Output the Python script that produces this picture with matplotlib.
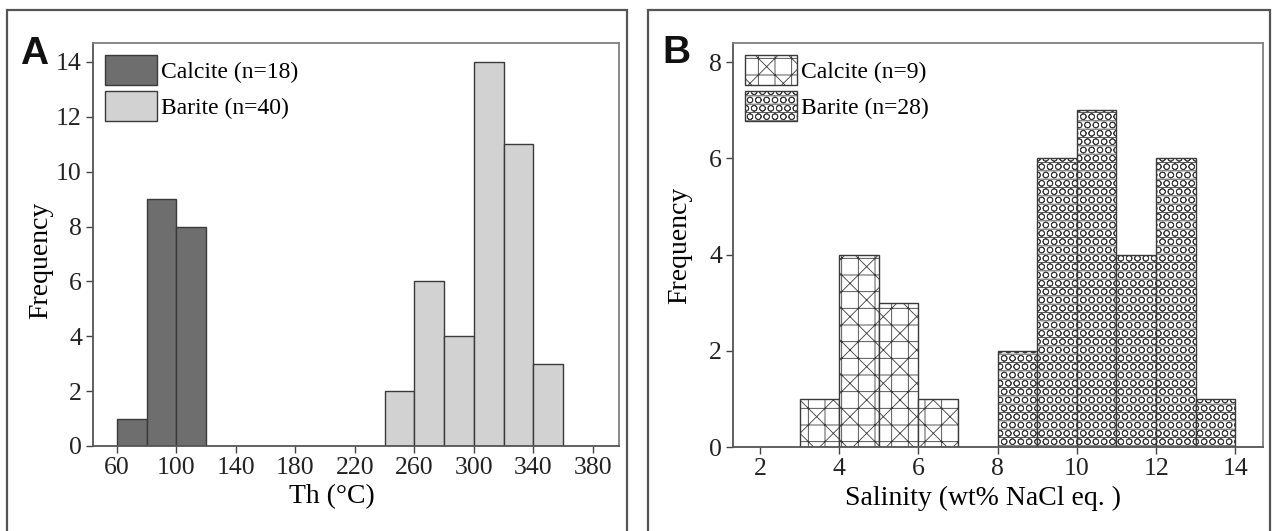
import matplotlib
matplotlib.use("Agg")
import matplotlib.pyplot as plt
import numpy as np
from matplotlib.patches import Patch, Rectangle

# ---------------- data ----------------
# Panel A: homogenization temperature (Th, °C)
th_bin_edges = [60, 80, 100, 120, 140, 160, 180, 200, 220, 240, 260, 280, 300, 320, 340, 360]
th_calcite = [1, 9, 8, 0, 0, 0, 0, 0, 0, 0, 0, 0, 0, 0, 0]
th_barite = [0, 0, 0, 0, 0, 0, 0, 0, 0, 2, 6, 4, 14, 11, 3]
th_xticks = [60, 100, 140, 180, 220, 260, 300, 340, 380]
th_yticks = [0, 2, 4, 6, 8, 10, 12, 14]
label_calcite_a = "Calcite (n=18)"
label_barite_a = "Barite (n=40)"

# Panel B: salinity (wt% NaCl eq.)
sal_bin_edges = [3, 4, 5, 6, 7, 8, 9, 10, 11, 12, 13, 14]
sal_calcite = [1, 4, 3, 1, 0, 0, 0, 0, 0, 0, 0]
sal_barite = [0, 0, 0, 0, 0, 2, 6, 7, 4, 6, 1]
sal_xticks = [2, 4, 6, 8, 10, 12, 14]
sal_yticks = [0, 2, 4, 6, 8]
label_calcite_b = "Calcite (n=9)"
label_barite_b = "Barite (n=28)"

# ---------------- style ----------------
W, H = 1273, 531
plt.rcParams['font.family'] = ['Liberation Serif', 'DejaVu Serif']
plt.rcParams['hatch.linewidth'] = 0.6
SERIF = 'Liberation Serif'
EDGE = '#3a3a3a'
SPINE = '#808080'
TICKC = '#444444'

fig = plt.figure(figsize=(W / 100, H / 100), dpi=100)


def ax_rect(l, t, r, b):
    return [l / W, 1 - b / H, (r - l) / W, (b - t) / H]


axA = fig.add_axes(ax_rect(93, 43, 619, 446))
axB = fig.add_axes(ax_rect(733, 43, 1263, 447))

# outer panel frames
for (l, r) in [(7, 627), (648, 1270)]:
    fig.add_artist(Rectangle((l / W, -0.05), (r - l) / W, 1 - 10 / H + 0.05,
                             transform=fig.transFigure, fill=False,
                             edgecolor='#555555', linewidth=1.6, clip_on=False))


def draw_hist(ax, edges, counts, **kw):
    edges = np.asarray(edges, dtype=float)
    counts = np.asarray(counts, dtype=float)
    widths = np.diff(edges)
    m = counts > 0
    ax.bar(edges[:-1][m], counts[m], width=widths[m], align='edge', **kw)


# ---------------- Panel A ----------------
calcite_a_style = dict(facecolor='#6e6e6e', edgecolor=EDGE, linewidth=1.0)
barite_a_style = dict(facecolor='#d2d2d2', edgecolor=EDGE, linewidth=1.0)
draw_hist(axA, th_bin_edges, th_calcite, **calcite_a_style)
draw_hist(axA, th_bin_edges, th_barite, **barite_a_style)
axA.set_xlim(44, 397.5)
axA.set_ylim(0, 14.69)
axA.set_xticks(th_xticks)
axA.set_yticks(th_yticks)
axA.set_xlabel("Th (°C)", fontsize=20, family=SERIF)
axA.xaxis.set_label_coords(0.455, -0.095)
axA.set_ylabel("Frequency", fontsize=20, family=SERIF)
axA.yaxis.set_label_coords(-0.076, 0.46)

hA = [Patch(**calcite_a_style), Patch(**barite_a_style)]
axA.legend(hA, [label_calcite_a, label_barite_a], loc='upper left', frameon=False,
           prop={'family': SERIF, 'size': 17}, handlelength=2.2, handleheight=1.6,
           handletextpad=0.2, labelspacing=0.25, borderaxespad=0.3, borderpad=0.2)

# ---------------- Panel B ----------------
calcite_b_style = dict(facecolor='white', edgecolor=EDGE, linewidth=1.0, hatch='x+')
barite_b_style = dict(facecolor='white', edgecolor=EDGE, linewidth=1.0, hatch='--OO')
draw_hist(axB, sal_bin_edges, sal_calcite, **calcite_b_style)
draw_hist(axB, sal_bin_edges, sal_barite, **barite_b_style)
axB.set_xlim(1.32, 14.7)
axB.set_ylim(0, 8.4)
axB.set_xticks(sal_xticks)
axB.set_yticks(sal_yticks)
axB.set_xlabel("Salinity (wt% NaCl eq. )", fontsize=20, family=SERIF)
axB.xaxis.set_label_coords(0.472, -0.095)
axB.set_ylabel("Frequency", fontsize=20, family=SERIF)
axB.yaxis.set_label_coords(-0.077, 0.5)

hB = [Patch(**calcite_b_style), Patch(**barite_b_style)]
axB.legend(hB, [label_calcite_b, label_barite_b], loc='upper left', frameon=False,
           prop={'family': SERIF, 'size': 17}, handlelength=2.2, handleheight=1.6,
           handletextpad=0.2, labelspacing=0.25, borderaxespad=0.3, borderpad=0.2)

for ax in (axA, axB):
    for s in ax.spines.values():
        s.set_color(SPINE)
        s.set_linewidth(1.3)
    ax.spines['bottom'].set_color('#555555')
    ax.spines['left'].set_color('#555555')
    ax.tick_params(direction='out', length=5, width=1, color=TICKC, labelsize=18.5,
                   labelcolor='#222222', pad=3)
    for lab in ax.get_xticklabels() + ax.get_yticklabels():
        lab.set_family(SERIF)

# panel letters
fig.text(20 / W, 1 - 64 / H, "A", fontsize=28, fontweight='bold', family='Liberation Sans',
         color='#111111', ha='left', va='baseline')
fig.text(662 / W, 1 - 63 / H, "B", fontsize=28, fontweight='bold', family='Liberation Sans',
         color='#111111', ha='left', va='baseline')

fig.savefig("out.png", dpi=100)
